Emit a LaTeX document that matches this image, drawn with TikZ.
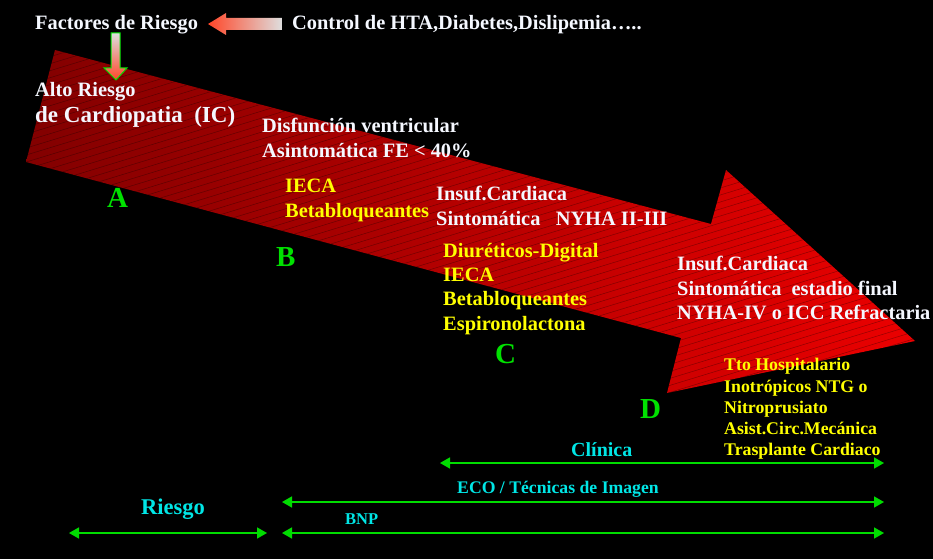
\documentclass[tikz,border=0pt]{standalone}
\usepackage{fontspec}
\setmainfont{Liberation Serif}
\usetikzlibrary{arrows.meta}
\definecolor{arrowdark}{RGB}{130,0,0}
\definecolor{arrowbright}{RGB}{235,0,0}
\definecolor{tipred}{RGB}{255,70,40}
\definecolor{tailgray}{RGB}{222,222,222}
\definecolor{lettergreen}{RGB}{0,225,0}
\definecolor{linegreen}{RGB}{0,220,0}
\definecolor{cyantext}{RGB}{0,230,230}
\definecolor{whitetext}{RGB}{245,248,255}
\definecolor{yellowtext}{RGB}{255,255,0}
\begin{document}
\begin{tikzpicture}[x=1pt,y=-1pt,
  txt/.style={anchor=base west, inner sep=0pt, font=\bfseries\fontsize{20.4}{24}\selectfont},
  wt/.style={txt, text=whitetext},
  yl/.style={txt, text=yellowtext},
  ylsmall/.style={yl, font=\bfseries\fontsize{17.8}{21}\selectfont},
  letter/.style={txt, text=lettergreen, font=\bfseries\fontsize{29}{30}\selectfont},
  cy/.style={txt, text=cyantext},
  garrow/.style={draw=linegreen, line width=1.6pt,
    {Triangle[length=10pt,width=11pt]}-{Triangle[length=10pt,width=11pt]}}]
\fill[black] (0,0) rectangle (933,559);
\useasboundingbox (0,0) rectangle (933,559);
% big arrow
\def\bigarrow{(55,50) -- (711,224) -- (726,170) -- (915,341) -- (667,393) -- (681,338) -- (26,162) -- cycle}
\path[left color=arrowdark, right color=arrowbright] \bigarrow;
\begin{scope}
  \clip \bigarrow;
  \foreach \c in {30,37,...,720}
    \draw[black, opacity=0.35, line width=0.5pt] (0,\c) -- (933,\c-285);
\end{scope}
% top left-pointing gradient arrow
\path[left color=tipred, right color=tailgray]
  (208,24) -- (226,13) -- (226,18) -- (282,18) -- (282,30) -- (226,30) -- (226,35) -- cycle;
% down gradient arrow
\path[top color=tailgray, bottom color=tipred, draw=lettergreen, line width=1pt]
  (111,33) -- (120,33) -- (120,68) -- (127,68) -- (116,80) -- (104,68) -- (111,68) -- cycle;
% texts
\node[wt] (fr) at (35,30) {Factores de Riesgo};
\node[wt] (ctrl) at (292,30) {Control de HTA,Diabetes,Dislipemia…..};
\node[wt] (alto) at (35,97) {Alto Riesgo};
\node[wt, font=\bfseries\fontsize{23}{26}\selectfont] (cardio) at (35,122) {de Cardiopatia\ \ (IC)};
\node[wt] (dis1) at (262,132) {Disfunción ventricular};
\node[wt] (dis2) at (262,157) {Asintomática FE < 40\%};
\node[yl] (b1) at (285,192) {IECA};
\node[yl] (b2) at (285,217) {Betabloqueantes};
\node[wt] (ic1) at (436,200) {Insuf.Cardiaca};
\node[wt] (ic2) at (436,225) {Sintomática\ \ \ NYHA II-III};
\node[yl] (c1) at (443,257) {Diuréticos-Digital};
\node[yl] (c2) at (443,281) {IECA};
\node[yl] (c3) at (443,305) {Betabloqueantes};
\node[yl] (c4) at (443,330) {Espironolactona};
\node[wt] (d1) at (677,270) {Insuf.Cardiaca};
\node[wt] (d2) at (677,295) {Sintomática\ \ estadio final};
\node[wt] (d3) at (677,319) {NYHA-IV o ICC Refractaria};
\node[ylsmall] (t1) at (724,370) {Tto Hospitalario};
\node[ylsmall] (t2) at (724,392) {Inotrópicos NTG o};
\node[ylsmall] (t3) at (724,413) {Nitroprusiato};
\node[ylsmall] (t4) at (724,434) {Asist.Circ.Mecánica};
\node[ylsmall] (t5) at (724,455) {Trasplante Cardiaco};
\node[letter] (A) at (107,207) {A};
\node[letter] (B) at (276,266) {B};
\node[letter] (C) at (495,363) {C};
\node[letter] (D) at (640,418) {D};
% bottom labels
\node[cy, font=\bfseries\fontsize{20}{24}\selectfont] (clin) at (571,456) {Clínica};
\node[cy, font=\bfseries\fontsize{17.7}{20}\selectfont] (eco) at (457,493) {ECO / Técnicas de Imagen};
\node[cy, font=\bfseries\fontsize{22.5}{26}\selectfont] (ries) at (141,514) {Riesgo};
\node[cy, font=\bfseries\fontsize{16.5}{20}\selectfont] (bnp) at (345,524) {BNP};
% green range arrows
\coordinate (clinL) at (440,463); \coordinate (clinR) at (884,463);
\coordinate (ecoL) at (282,502); \coordinate (ecoR) at (884,502);
\coordinate (riesL) at (69,533); \coordinate (riesR) at (267,533);
\coordinate (bnpL) at (282,533); \coordinate (bnpR) at (884,533);
\draw[garrow] (clinL) -- (clinR);
\draw[garrow] (ecoL) -- (ecoR);
\draw[garrow] (riesL) -- (riesR);
\draw[garrow] (bnpL) -- (bnpR);
\end{tikzpicture}
\end{document}
